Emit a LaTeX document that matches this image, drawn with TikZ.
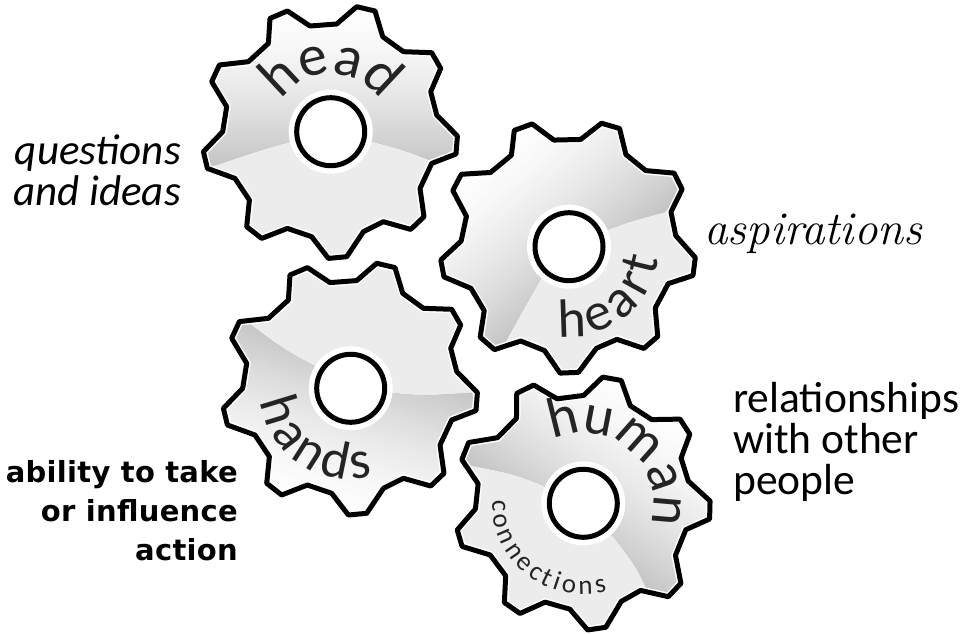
\documentclass[tikz,border=0pt]{standalone}
\usepackage{fontspec}
\usetikzlibrary{decorations.text}
\newfontfamily\notefont{Carlito}
\newfontfamily\actionfont[LetterSpace=1]{DejaVu Sans Bold}
\definecolor{gearflat}{gray}{0.925}
\definecolor{gearlow}{gray}{0.77}
\definecolor{labelink}{gray}{0.14}
\newcommand{\gearoutline}{(-43.3,120.7) -- (-20.7,105.7) -- (6,107.7) -- (26,125) -- (44.3,120.7) -- (52,95) -- (72.7,80) -- (101,79) -- (110,63.3) -- (100,40) -- (106,16.7) -- (126.7,-4.3) -- (125.3,-22.3) -- (101,-31.7) -- (89.3,-56.7) -- (93.3,-85) -- (80,-97.7) -- (52.7,-90) -- (32.7,-100) -- (16,-125) -- (-2.3,-126.7) -- (-19,-105) -- (-43.3,-96.7) -- (-69,-106.7) -- (-84,-95) -- (-81.3,-68.3) -- (-95.7,-46.7) -- (-123.3,-36.7) -- (-127.3,-20) -- (-108,0) -- (-104,25) -- (-119,50) -- (-111.3,66.7) -- (-82.3,70) -- (-62.3,88.3) -- (-60.7,113.3) -- cycle}
% #1 centre, #2 turn of the teeth, #3 turn of the gradient, #4 its sector
\newcommand{\gearwheel}[4]{
    \begin{scope}[shift={(#1)}]
        \begin{scope}[rotate=#2]
            \clip \gearoutline;
            \fill[gearflat] (-140,-140) rectangle (140,140);
            \begin{scope}[rotate=-#2]
                \clip #4;
                \foreach \level in {-35,-32,...,130} {
                    \pgfmathsetmacro{\depth}{100*((130-\level)/165)^1.6}
                    \fill[rotate=#3, gearlow!\depth!white] (-190,\level) rectangle (190,135);
                }
            \end{scope}
            \draw[white, line width=8pt] \gearoutline;
        \end{scope}
        \draw[rotate=#2, gearedge] \gearoutline;
        \fill[white] (0,0) circle (42);
        \draw[gearedge] (0,0) circle (34);
    \end{scope}
}
\tikzset{
    gearedge/.style={line width=5pt, line join=round},
    sidenote/.style={inner sep=0pt, align=right, anchor=east},
    curved/.style 2 args={postaction={decorate}, decoration={text along path, text align={#1}, text={#2}}},
}
\begin{document}
\begin{tikzpicture}[x=1pt, y=1pt]
    \useasboundingbox (0,0) rectangle (972,633);
    \coordinate (head) at (330.7,501.3);
    \coordinate (heart) at (569,386.3);
    \coordinate (hands) at (350.7,244.7);
    \coordinate (human) at (583.3,129.7);

    \gearwheel{head}{0}{0}{(-41,-10) .. controls (-70,-18) .. (-145,-44) -- (-145,135) -- (135,135) -- (135,-44) .. controls (80,-20) .. (43,-10) -- cycle}
    \gearwheel{heart}{-3}{40}{(38,17) .. controls (65,27) .. (140,45) -- (140,135) -- (-140,135) -- (-140,-135) -- (-85,-135) .. controls (-50,-70) .. (-29,-33) -- cycle}
    \gearwheel{hands}{0}{163}{(41,-5) .. controls (75,-8) .. (140,-3) -- (140,-135) -- (-140,-135) -- (-140,95) .. controls (-70,40) .. (-36,22) -- cycle}
    \gearwheel{human}{3}{-35}{(-40,18) .. controls (-70,30) .. (-135,42) -- (-135,135) -- (140,135) -- (140,-135) -- (80,-125) .. controls (55,-65) .. (30,-33) -- cycle}

    \path[curved={left}{|\notefont\fontsize{58}{58}\selectfont\color{labelink}|head}] (head) ++(148:58) arc (148:-10:58);
    \path[curved={fit to path}{|\notefont\fontsize{54}{54}\selectfont\color{labelink}|heart}] (heart) ++(-97:90) arc (-97:-8:90);
    \path[curved={fit to path}{|\notefont\fontsize{54}{54}\selectfont\color{labelink}|hands}] (hands) ++(188:91) arc (188:284:91);
    \path[curved={left}{|\notefont\fontsize{57}{57}\selectfont\color{labelink}|human}] (human) ++(116:70) arc (116:-60:70);
    \path[curved={fit to path}{|\notefont\fontsize{27}{27}\selectfont\color{labelink}|connections}] (human) ++(178:91) arc (178:285:91);

    \node[sidenote, font={\fontsize{43}{41}\selectfont\notefont\itshape}] (questions) at (181,463) {questions\\and ideas};
    \node[inner sep=0pt, anchor=west, font={\fontsize{47}{47}\selectfont\itshape}] (aspirations) at (704,399) {aspirations};
    \node[inner sep=0pt, align=left, anchor=west, font={\fontsize{43.5}{41}\selectfont\notefont}] (relationships) at (733,191) {relationships\\with other\\people};
    \node[sidenote, font={\fontsize{29}{39}\selectfont\actionfont}] (ability) at (238,122) {ability to take\\or influence\\action};
\end{tikzpicture}
\end{document}
